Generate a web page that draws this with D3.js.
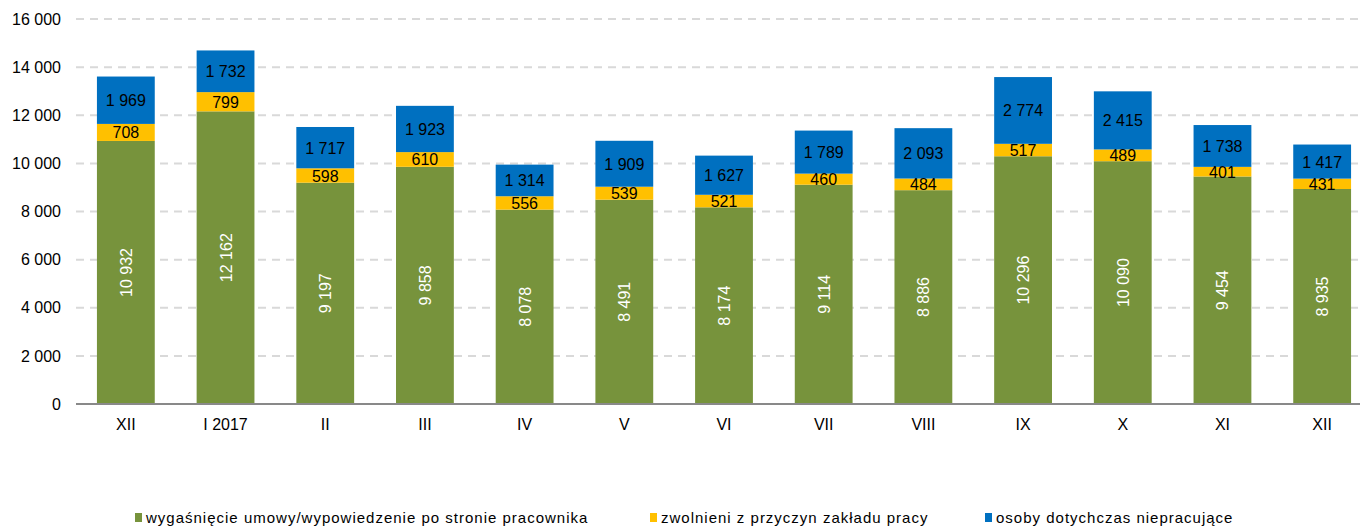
<!DOCTYPE html>
<html>
<head>
<meta charset="utf-8">
<script src="https://cdn.jsdelivr.net/npm/d3@7"></script>
<style>
  body { margin: 0; background: #fff; }
  svg { display: block; font-family: 'Liberation Sans', Arial, sans-serif; }
  .grid line { stroke: #d9d9d9; stroke-width: 2; stroke-dasharray: 8 6; }
</style>
</head>
<body>
<svg></svg>
<script>
let svgWidth = 1362
let svgHeight = 527

let categories = ['XII', 'I 2017', 'II', 'III', 'IV', 'V', 'VI', 'VII', 'VIII', 'IX', 'X', 'XI', 'XII']
let seriesNames = ['wygaśnięcie umowy/wypowiedzenie po stronie pracownika', 'zwolnieni z przyczyn zakładu pracy', 'osoby dotychczas niepracujące']
let seriesColors = ['#77933c', '#ffc000', '#0070c0']
let contractEnd = [10932, 12162, 9197, 9858, 8078, 8491, 8174, 9114, 8886, 10296, 10090, 9454, 8935]
let dismissed = [708, 799, 598, 610, 556, 539, 521, 460, 484, 517, 489, 401, 431]
let neverWorked = [1969, 1732, 1717, 1923, 1314, 1909, 1627, 1789, 2093, 2774, 2415, 1738, 1417]
let yTicks = [0, 2000, 4000, 6000, 8000, 10000, 12000, 14000, 16000]

let fmt = d3.formatLocale({ decimal: ',', thousands: ' ', grouping: [3], currency: ['', ''] }).format(',d')

let svg = d3.select('svg').attr('width', svgWidth).attr('height', svgHeight)

let plotLeft = 76, plotRight = 1372, axisRight = 1360
let plotTop = 19, plotBottom = 404

let xScale = d3.scaleBand().domain(d3.range(categories.length)).range([plotLeft, plotRight]).paddingInner(0.42).paddingOuter(0.21)
let yScale = d3.scaleLinear().domain([0, 16000]).range([plotBottom, plotTop])

// grid
svg.append('g').attr('class', 'grid')
  .selectAll('line').data(yTicks.filter(d => d > 0)).enter()
  .append('line')
  .attr('x1', plotLeft).attr('x2', axisRight)
  .attr('y1', d => yScale(d)).attr('y2', d => yScale(d))

// y axis labels
let yAxis = d3.axisLeft(yScale).tickValues(yTicks).tickFormat(fmt).tickSize(0).tickPadding(15)
let yg = svg.append('g').attr('transform', 'translate(' + plotLeft + ',0)').call(yAxis)
yg.select('.domain').remove()
yg.selectAll('text').attr('font-size', 16).attr('fill', '#000').attr('font-family', 'Liberation Sans, Arial, sans-serif')

// stacked data
let rows = categories.map((c, i) => ({ i: i, a: contractEnd[i], b: dismissed[i], c: neverWorked[i] }))
let stack = d3.stack().keys(['a', 'b', 'c'])(rows)

let layers = svg.append('g').selectAll('g').data(stack).enter()
  .append('g').attr('fill', (d, k) => seriesColors[k])

layers.selectAll('rect').data(d => d).enter()
  .append('rect')
  .attr('x', d => xScale(d.data.i))
  .attr('width', xScale.bandwidth())
  .attr('y', d => yScale(d[1]))
  .attr('height', d => yScale(d[0]) - yScale(d[1]))

// value labels
stack.forEach(function(layer, k) {
  let g = svg.append('g').attr('font-size', 16)
  layer.forEach(function(d) {
    let cx = xScale(d.data.i) + xScale.bandwidth() / 2
    let cy = (yScale(d[0]) + yScale(d[1])) / 2
    let val = d[1] - d[0]
    if (k === 0) {
      g.append('text')
        .attr('transform', 'translate(' + (cx + 6) + ',' + cy + ') rotate(-90)')
        .attr('text-anchor', 'middle')
        .attr('fill', '#fff')
        .text(fmt(val))
    } else {
      g.append('text')
        .attr('x', cx).attr('y', cy + 6)
        .attr('text-anchor', 'middle')
        .attr('fill', '#000')
        .text(fmt(val))
    }
  })
})

// x axis
svg.append('line')
  .attr('x1', plotLeft).attr('x2', axisRight)
  .attr('y1', plotBottom).attr('y2', plotBottom)
  .attr('stroke', '#898989').attr('stroke-width', 2)

svg.append('g').selectAll('text').data(categories).enter()
  .append('text')
  .attr('x', (d, i) => xScale(i) + xScale.bandwidth() / 2)
  .attr('y', 430)
  .attr('text-anchor', 'middle')
  .attr('font-size', 16)
  .text(d => d)

// legend
let legendX = [135, 650, 985]
let legend = svg.append('g').selectAll('g').data(seriesNames).enter()
  .append('g').attr('transform', (d, i) => 'translate(' + legendX[i] + ',513)')
legend.append('rect').attr('width', 7).attr('height', 9).attr('y', 0).attr('fill', (d, i) => seriesColors[i])
legend.append('text').attr('x', 11).attr('y', 10).attr('font-size', 15).attr('letter-spacing', 1).text(d => d)
</script>
</body>
</html>
